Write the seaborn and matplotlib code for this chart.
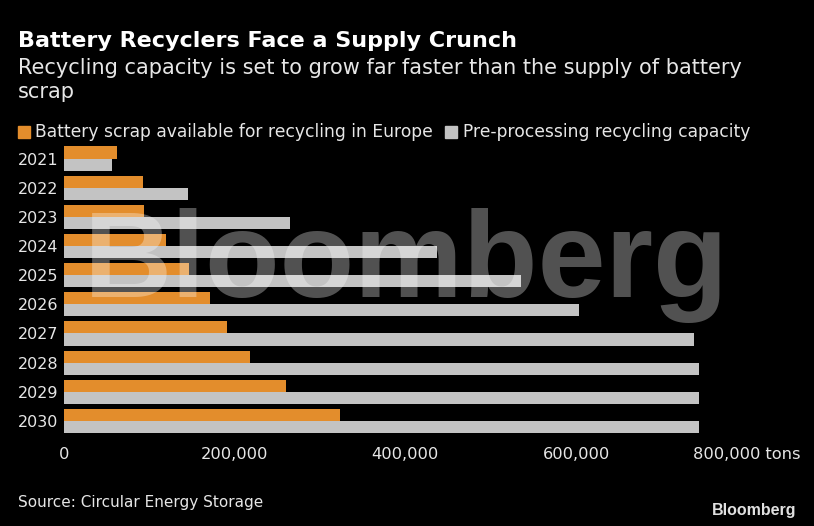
import numpy as np
import pandas as pd
import matplotlib
matplotlib.use("Agg")
import matplotlib.pyplot as plt
import seaborn as sns

years = ["2021", "2022", "2023", "2024", "2025", "2026", "2027", "2028", "2029", "2030"]
scrap = [62000, 93000, 94000, 120000, 147000, 171000, 191000, 218000, 260000, 324000]
capacity = [56500, 145000, 265000, 437000, 535000, 604000, 738000, 744000, 744000, 744000]
series = ["Battery scrap available for recycling in Europe",
          "Pre-processing recycling capacity"]
tick_vals = [0, 200000, 400000, 600000, 800000]
tick_labels = ["0", "200,000", "400,000", "600,000", "800,000 tons"]

orange = "#e38d2c"
gray = "#c3c3c3"
txt = "#e6e6e6"

df = pd.DataFrame({"year": years * 2,
                   "value": scrap + capacity,
                   "series": [series[0]] * len(years) + [series[1]] * len(years)})

sns.set_theme(style="dark")
plt.rcParams["font.family"] = ["DejaVu Sans"]

W, H = 814, 526
fig = plt.figure(figsize=(W / 100, H / 100), dpi=100, facecolor="black")

# axes placement in pixels
x0, x800 = 64, 746.7
xmax = 830000
right = x0 + (x800 - x0) * xmax / 800000
top, bottom = 144, 435.5
ax = fig.add_axes([x0 / W, 1 - bottom / H, (right - x0) / W, (bottom - top) / H])
ax.set_facecolor("black")

sns.barplot(data=df, y="year", x="value", hue="series", orient="h",
            palette=[orange, gray], width=0.83, saturation=1,
            linewidth=0, edgecolor="none", legend=False, ax=ax)

ax.set_xlim(0, xmax)
ax.set_ylim(9.5, -0.5)
ax.set_xticks(tick_vals)
ax.set_xticklabels(tick_labels, color=txt, fontsize=11.7)
ax.tick_params(axis="x", direction="out", length=4, width=1, color=txt, pad=4)
ax.tick_params(axis="y", length=0, pad=4, labelsize=11.5, labelcolor=txt)
ax.xaxis.get_major_ticks()[0].tick1line.set_visible(False)
ax.set_xlabel("")
ax.set_ylabel("")
for s in ax.spines.values():
    s.set_visible(False)
ax.grid(False)

# watermark over the bars
fig.text(406 / W, 1 - 297 / H, "Bloomberg", ha="center", va="baseline",
         fontsize=88, fontweight="bold", family="Liberation Sans",
         color="white", alpha=0.32, zorder=10)

# titles
fig.text(18 / W, 1 - 47 / H, "Battery Recyclers Face a Supply Crunch",
         fontsize=16, fontweight="bold", color="white", va="baseline")
fig.text(18 / W, 1 - 74 / H,
         "Recycling capacity is set to grow far faster than the supply of battery",
         fontsize=15, color=txt, va="baseline")
fig.text(18 / W, 1 - 98 / H, "scrap", fontsize=15, color=txt, va="baseline")

# legend
fig.patches.append(plt.Rectangle((18 / W, 1 - 138 / H), 12 / W, 12 / H,
                                 transform=fig.transFigure, color=orange))
fig.text(35 / W, 1 - 137 / H, series[0], fontsize=12.3, color=txt, va="baseline")
fig.patches.append(plt.Rectangle((445 / W, 1 - 138 / H), 12 / W, 12 / H,
                                 transform=fig.transFigure, color=gray))
fig.text(463 / W, 1 - 137 / H, series[1], fontsize=12.3, color=txt, va="baseline")

# footer
fig.text(18 / W, 1 - 507 / H, "Source: Circular Energy Storage",
         fontsize=11, color=txt, va="baseline")
fig.text(796 / W, 1 - 515 / H, "Bloomberg", fontsize=11.5, fontweight="bold",
         family="Liberation Sans", color="#e0e0e0", ha="right", va="baseline")

fig.savefig("out.png", dpi=100, facecolor="black")
